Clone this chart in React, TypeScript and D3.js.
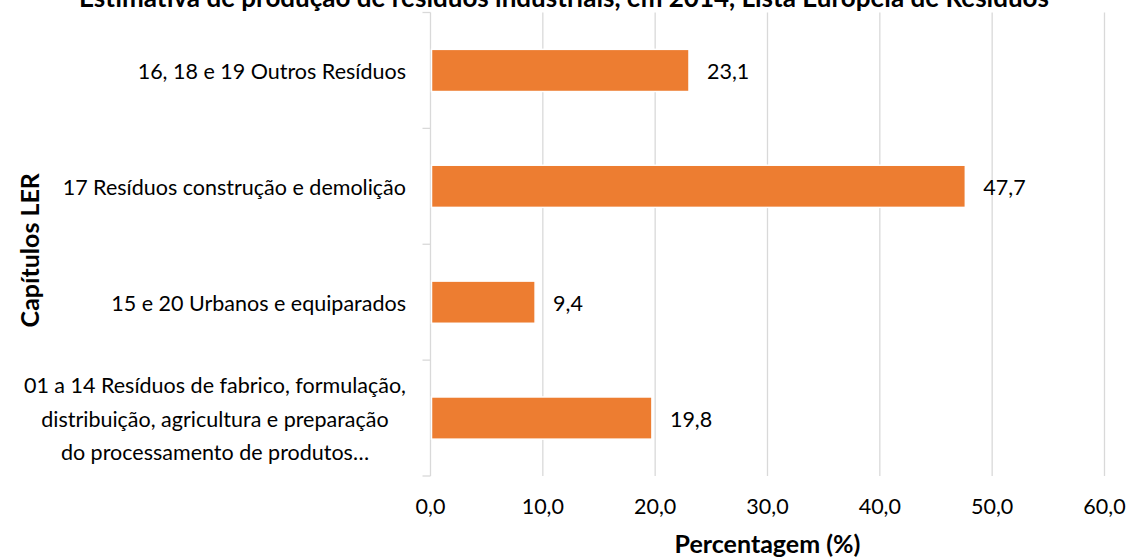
import React, { useEffect, useRef } from 'react'
import * as d3 from 'd3'

// categories, top to bottom as in the chart
const categories = ['c16', 'c17', 'c15', 'c01']
const labelLines = [
  ['16, 18 e 19 Outros Resíduos'],
  ['17 Resíduos construção e demolição'],
  ['15 e 20 Urbanos e equiparados'],
  ['01 a 14 Resíduos de fabrico, formulação,', 'distribuição, agricultura e preparação', 'do processamento de produtos…'],
]
const values = [23.1, 47.7, 9.4, 19.8]
const xTicks = [0, 10, 20, 30, 40, 50, 60]

const title = 'Estimativa de produção de resíduos industriais, em 2014, Lista Europeia de Resíduos'
const xTitle = 'Percentagem (%)'
const yTitle = 'Capítulos LER'

const fmt = (v: number) => v.toFixed(1).replace('.', ',')

const App = () => {
  const ref = useRef<SVGSVGElement>(null)
  const width = 1130
  const height = 558
  const plot = { left: 430.5, right: 1104.5, top: 12.5, bottom: 476 }
  const font = 'Lato, "Open Sans", sans-serif'
  const fs = 21.5
  const fsBold = 25

  useEffect(() => {
    if (!ref.current) return
    const svg = d3.select(ref.current)
    svg.selectAll('*').remove()

    const x = d3.scaleLinear().domain([0, 60]).range([plot.left, plot.right])
    const y = d3.scaleBand<string>()
      .domain(categories)
      .range([plot.top, plot.bottom])
      .paddingInner(0.636)
      .paddingOuter(0.318)

    // vertical gridlines
    svg.append('g')
      .selectAll('line')
      .data(xTicks.slice(1))
      .join('line')
      .attr('x1', d => x(d)).attr('x2', d => x(d))
      .attr('y1', plot.top).attr('y2', plot.bottom)
      .attr('stroke', '#d9d9d9')
      .attr('stroke-width', 1.3)

    // category axis + tick marks between categories
    const step = y.step()
    svg.append('line')
      .attr('x1', x(0)).attr('x2', x(0))
      .attr('y1', plot.top).attr('y2', plot.bottom)
      .attr('stroke', '#d9d9d9').attr('stroke-width', 1.3)
    svg.append('g')
      .selectAll('line')
      .data(d3.range(categories.length + 1))
      .join('line')
      .attr('x1', x(0) - 8).attr('x2', x(0))
      .attr('y1', i => plot.top + i * step).attr('y2', i => plot.top + i * step)
      .attr('stroke', '#d9d9d9').attr('stroke-width', 1.3)

    // bars (white border like the spreadsheet style)
    svg.append('g')
      .selectAll('rect')
      .data(values)
      .join('rect')
      .attr('x', x(0) + 1)
      .attr('y', (d, i) => y(categories[i])!)
      .attr('width', d => x(d) - x(0) - 2)
      .attr('height', y.bandwidth())
      .attr('fill', '#ED7D31')
      .attr('stroke', '#fff')
      .attr('stroke-width', 1.5)

    // value labels
    svg.append('g')
      .selectAll('text')
      .data(values)
      .join('text')
      .attr('x', d => x(d) + 17)
      .attr('y', (d, i) => y(categories[i])! + y.bandwidth() / 2 + 8.5)
      .attr('font-family', font)
      .attr('font-size', fs)
      .attr('fill', '#000')
      .text(d => fmt(d))

    // category labels
    const lineH = 33.5
    const labelRight = 406
    labelLines.forEach((lines, i) => {
      const cy = y(categories[i])! + y.bandwidth() / 2
      const g = svg.append('g')
      const texts = g.selectAll('text')
        .data(lines)
        .join('text')
        .attr('y', (d, j) => cy + 8.5 + (j - (lines.length - 1) / 2) * lineH)
        .attr('font-family', font)
        .attr('font-size', fs)
        .attr('fill', '#000')
        .text(d => d)
      if (lines.length === 1) {
        texts.attr('x', labelRight).attr('text-anchor', 'end')
      } else {
        let w = 0
        texts.each(function () { w = Math.max(w, (this as SVGTextElement).getComputedTextLength()) })
        texts.attr('x', labelRight - w / 2).attr('text-anchor', 'middle')
      }
    })

    // x tick labels
    svg.append('g')
      .selectAll('text')
      .data(xTicks)
      .join('text')
      .attr('x', d => x(d))
      .attr('y', 514)
      .attr('text-anchor', 'middle')
      .attr('font-family', font)
      .attr('font-size', fs)
      .attr('fill', '#000')
      .text(d => fmt(d))

    // axis titles
    svg.append('text')
      .attr('x', (plot.left + plot.right) / 2)
      .attr('y', 553)
      .attr('text-anchor', 'middle')
      .attr('font-family', font)
      .attr('font-size', fsBold)
      .attr('font-weight', 'bold')
      .text(xTitle)

    svg.append('text')
      .attr('transform', `translate(39,${(plot.top + plot.bottom) / 2 + 6}) rotate(-90)`)
      .attr('text-anchor', 'middle')
      .attr('font-family', font)
      .attr('font-size', fsBold)
      .attr('font-weight', 'bold')
      .text(yTitle)

    // chart title (cut off at the top edge, as in the source image)
    svg.append('text')
      .attr('x', 564)
      .attr('y', 7)
      .attr('text-anchor', 'middle')
      .attr('font-family', font)
      .attr('font-size', 26)
      .attr('font-weight', 'bold')
      .text(title)
  }, [])

  return (
    <svg
      ref={ref}
      width={width}
      height={height}
      style={{ position: 'absolute', left: 0, top: 0, background: '#fff' }}
    />
  )
}

export default App
